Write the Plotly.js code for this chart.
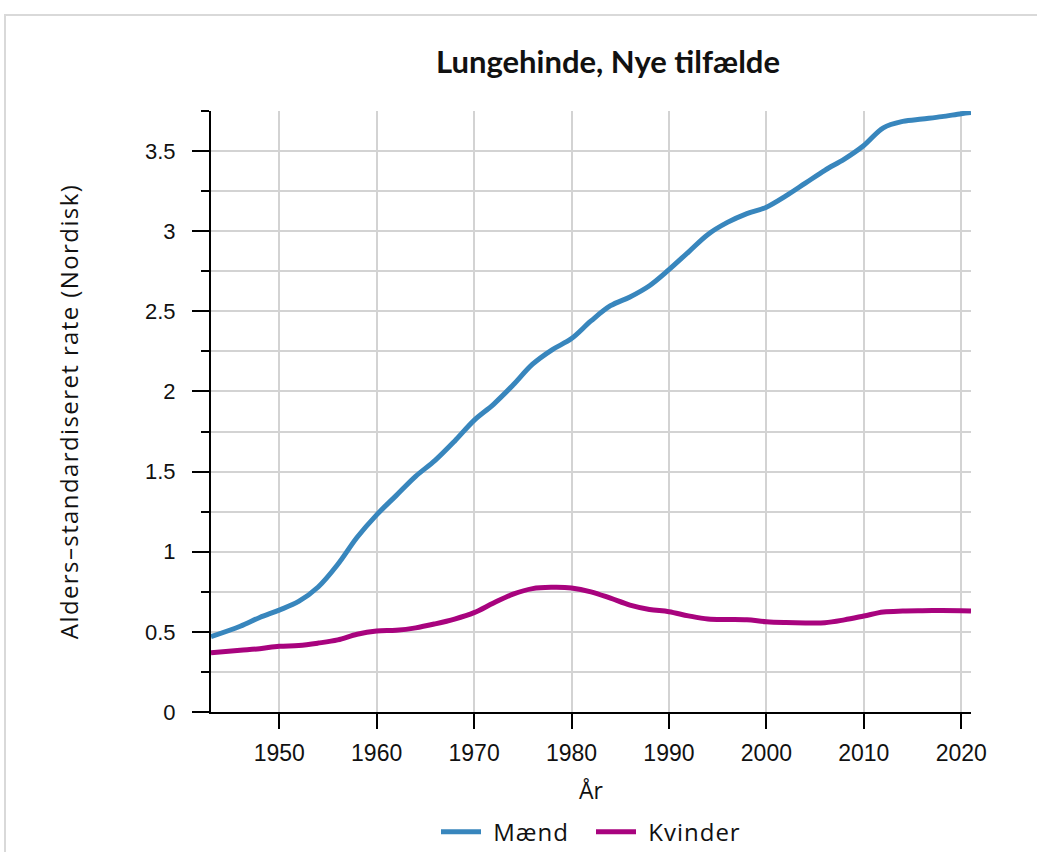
<!DOCTYPE html>
<html>
<head>
<meta charset="utf-8">
<script src="https://cdn.plot.ly/plotly-3.0.1.min.js"></script>
<style>
  html, body { margin: 0; padding: 0; background: #fff; }
  #wrap { position: relative; width: 1037px; height: 852px; overflow: hidden; }
  #frame { position: absolute; left: 4px; top: 14px; width: 1100px; height: 900px; border-left: 2px solid #d9d9d9; border-top: 2px solid #d9d9d9; box-sizing: border-box; }
  #chart { position: absolute; left: 0; top: 0; width: 1037px; height: 852px; }
  #chart .ytitle { letter-spacing: 1.4px; }
  #chart .legendtext { letter-spacing: 1px; }
</style>
</head>
<body>
<div id="wrap">
  <div id="frame"></div>
  <div id="chart"></div>
</div>
<script>
const chartTitle = "Lungehinde, Nye tilfælde";
const xTitle = "År";
const yTitle = "Alders\u2013standardiseret rate (Nordisk)";
const seriesNames = ["Mænd", "Kvinder"];

const years = [1943, 1946, 1948, 1950, 1952, 1954, 1956, 1958, 1960, 1962, 1964, 1966, 1968, 1970,
  1972, 1974, 1976, 1978, 1980, 1982, 1984, 1986, 1988, 1990, 1992, 1994, 1996, 1998, 2000,
  2002, 2004, 2006, 2008, 2010, 2012, 2014, 2016, 2018, 2020, 2021];

const maend = [0.47, 0.535, 0.59, 0.636, 0.69, 0.78, 0.92, 1.09, 1.23, 1.35, 1.47, 1.57, 1.69, 1.82,
  1.92, 2.04, 2.17, 2.26, 2.33, 2.44, 2.535, 2.59, 2.66, 2.76, 2.87, 2.98, 3.055, 3.11, 3.15,
  3.22, 3.30, 3.38, 3.45, 3.535, 3.645, 3.685, 3.70, 3.715, 3.733, 3.74];

const kvinder = [0.37, 0.385, 0.395, 0.41, 0.415, 0.43, 0.45, 0.485, 0.505, 0.51, 0.525, 0.55, 0.58, 0.62,
  0.68, 0.735, 0.77, 0.778, 0.774, 0.75, 0.71, 0.667, 0.64, 0.626, 0.60, 0.58, 0.577, 0.575, 0.563,
  0.558, 0.556, 0.557, 0.575, 0.599, 0.624, 0.63, 0.632, 0.633, 0.632, 0.63];

const xTickVals = [1950, 1960, 1970, 1980, 1990, 2000, 2010, 2020];
const yTickVals = [0, 0.5, 1, 1.5, 2, 2.5, 3, 3.5];
const yTickText = ["0", "0.5", "1", "1.5", "2", "2.5", "3", "3.5"];

const colors = ["#3886bd", "#a8037e"];
const titleFont = "Lato, 'Open Sans', sans-serif";
const labelFont = "'Open Sans', 'Noto Sans', sans-serif";
const tickFont = "'Liberation Sans', Arial, sans-serif";

const traces = [
  { x: years, y: maend, name: "\u00a0" + seriesNames[0], type: "scatter", mode: "lines",
    line: { color: colors[0], width: 5, shape: "spline", smoothing: 1 } },
  { x: years, y: kvinder, name: "\u00a0" + seriesNames[1], type: "scatter", mode: "lines",
    line: { color: colors[1], width: 5, shape: "spline", smoothing: 1 } }
];

const layout = {
  width: 1037, height: 852,
  paper_bgcolor: "rgba(0,0,0,0)", plot_bgcolor: "#fff",
  margin: { l: 211, r: 66, t: 111, b: 140, autoexpand: false },
  showlegend: true,
  title: { text: chartTitle, font: { family: titleFont, size: 31, color: "#111", weight: "bold" },
    x: 608 / 1037, xref: "container", xanchor: "center", y: 1 - 62 / 852, yref: "container", yanchor: "middle" },
  xaxis: {
    range: [1943, 2021], tickvals: xTickVals, ticks: "outside", ticklen: 15, tickwidth: 2, tickcolor: "#000",
    showline: true, linecolor: "#000", linewidth: 2, showgrid: true, gridcolor: "#d3d3d3", gridwidth: 2,
    zeroline: false, automargin: false, ticklabelstandoff: 4,
    tickfont: { family: tickFont, size: 23, color: "#111" },
    title: { text: xTitle, font: { family: labelFont, size: 23, color: "#111" }, standoff: 18 }
  },
  yaxis: {
    range: [0, 3.75], tickvals: yTickVals, ticktext: yTickText, ticks: "outside", ticklen: 17, tickwidth: 2,
    tickcolor: "#000", showline: true, linecolor: "#000", linewidth: 2, showgrid: true, gridcolor: "#d3d3d3",
    gridwidth: 2, zeroline: false, automargin: false, ticklabelstandoff: 12,
    tickfont: { family: tickFont, size: 22, color: "#111" },
    minor: { dtick: 0.25, tick0: 0, ticks: "outside", ticklen: 8, tickwidth: 2, tickcolor: "#000",
      showgrid: true, gridcolor: "#d3d3d3", gridwidth: 2 },
    title: { text: yTitle, font: { family: labelFont, size: 24, color: "#111" }, standoff: 60 }
  },
  legend: { orientation: "h", x: 0.5, xanchor: "center", y: -0.2, yanchor: "middle",
    font: { family: labelFont, size: 24, color: "#111" }, itemwidth: 40, bgcolor: "rgba(0,0,0,0)",
    entrywidth: 100, entrywidthmode: "pixels" }
};

Plotly.newPlot("chart", traces, layout, { displayModeBar: false, staticPlot: true });
</script>
</body>
</html>
